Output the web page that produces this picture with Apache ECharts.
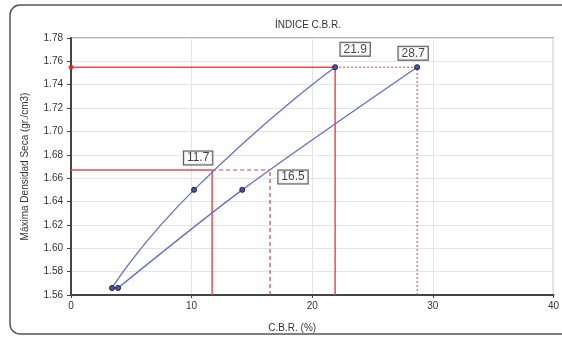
<!DOCTYPE html>
<html><head><meta charset="utf-8">
<script src="https://cdn.jsdelivr.net/npm/echarts@6/dist/echarts.min.js"></script>
<style>html,body{margin:0;padding:0;background:#fff}#c{width:562px;height:340px}</style>
</head><body><div id="c"></div>
<script>
const titleText = 'ÍNDICE C.B.R.';
const xName = 'C.B.R. (%)';
const yName = 'Máxima Densidad Seca (gr./cm3)';
const cbr1 = [3.4, 10.2, 21.9];
const dens1 = [1.566, 1.650, 1.755];
const cbr2 = [3.9, 14.2, 28.7];
const dens2 = [1.566, 1.650, 1.755];
const cbrResults = [11.7, 16.5, 21.9, 28.7];
const densResults = [1.667, 1.667, 1.755, 1.755];
const xTicks = [0, 10, 20, 30, 40];
const yTicks = [1.56, 1.58, 1.60, 1.62, 1.64, 1.66, 1.68, 1.70, 1.72, 1.74, 1.76, 1.78];

const yMin = yTicks[0], yMax = yTicks[yTicks.length - 1];
const xMin = xTicks[0], xMax = xTicks[xTicks.length - 1];
const RED = '#ee4b4b', RED_D = '#c8474f';
const BLUE = '#6170c2';

function seg(name, pts, color, type, width) {
  return { name, type: 'line', data: pts, symbol: 'none', silent: true, z: 3,
    lineStyle: { color, type, width } };
}
const series = [];
series.push(seg('h1', [[xMin, densResults[0]], [cbrResults[0], densResults[0]]], RED, 'solid', 1.5));
series.push(seg('v1', [[cbrResults[0], yMin], [cbrResults[0], densResults[0]]], RED, 'solid', 1.5));
series.push(seg('h2', [[cbrResults[0], densResults[1]], [cbrResults[1], densResults[1]]], RED_D, [4, 3], 1.2));
series.push(seg('v2', [[cbrResults[1], yMin], [cbrResults[1], densResults[1]]], RED_D, [4, 3], 1.2));
series.push(seg('h3', [[xMin, densResults[2]], [cbrResults[2], densResults[2]]], RED, 'solid', 1.5));
series.push(seg('v3', [[cbrResults[2], yMin], [cbrResults[2], densResults[2]]], RED, 'solid', 1.5));
series.push(seg('h4', [[cbrResults[2], densResults[3]], [cbrResults[3], densResults[3]]], RED_D, [2, 2], 1));
series.push(seg('v4', [[cbrResults[3], yMin], [cbrResults[3], densResults[3]]], RED_D, [2, 2], 1));
series.push({ type: 'scatter', data: [[xMin, densResults[2]]], symbolSize: 5, z: 6,
  itemStyle: { color: '#e02020' } });

const markerStyle = { color: '#4a58a8', borderColor: '#1c1c40', borderWidth: 1 };
series.push({ name: 'c1', type: 'line', smooth: 0.6, z: 5,
  data: cbr1.map((x, i) => [x, dens1[i]]), symbol: 'circle', symbolSize: 5,
  lineStyle: { color: BLUE, width: 1.3 }, itemStyle: markerStyle });
series.push({ name: 'c2', type: 'line', smooth: 0.3, z: 5,
  data: cbr2.map((x, i) => [x, dens2[i]]), symbol: 'circle', symbolSize: 5,
  lineStyle: { color: BLUE, width: 1.3 }, itemStyle: markerStyle });

const offsets = [[-14, -12], [23, 7], [20, -18], [-4, -14]];
series.push({ type: 'scatter', symbolSize: 0, z: 10, silent: true,
  data: cbrResults.map((x, i) => ({ value: [x, densResults[i]],
    label: { offset: offsets[i] } })),
  label: { show: true, position: 'inside', formatter: p => p.value[0].toFixed(1),
    fontFamily: 'Liberation Sans, Arial', fontSize: 12, color: '#111',
    backgroundColor: '#fff', borderColor: '#222', borderWidth: 1,
    padding: [1, 3, 0, 3] } });

const chart = echarts.init(document.getElementById('c'));
chart.setOption({
  animation: false,
  textStyle: { fontFamily: 'Liberation Sans, Arial' },
  title: { text: titleText, left: 303, top: 15, textAlign: 'center',
    textStyle: { fontSize: 10, fontWeight: 'normal', color: '#333' } },
  grid: { left: 71, top: 38, right: 7, bottom: 45, show: true,
    borderColor: '#666', borderWidth: 1.2, backgroundColor: '#fff' },
  xAxis: { type: 'value', min: xMin, max: xMax, interval: 10,
    name: xName, nameLocation: 'middle', nameGap: 28,
    nameTextStyle: { fontSize: 10, color: '#333', padding: [0, 40, 0, 0] },
    axisLine: { show: true, onZero: false, lineStyle: { color: '#444', width: 2 } },
    axisTick: { show: true, length: 3, lineStyle: { color: '#444' } },
    axisLabel: { fontSize: 10, color: '#333', margin: 6 },
    splitLine: { show: true, lineStyle: { color: '#e4e4e4', width: 1 } } },
  yAxis: { type: 'value', min: yMin, max: yMax, interval: 0.02,
    name: yName, nameLocation: 'middle', nameGap: 41,
    nameTextStyle: { fontSize: 10, color: '#333' },
    axisLine: { show: true, onZero: false, lineStyle: { color: '#444', width: 2 } },
    axisTick: { show: true, length: 4, lineStyle: { color: '#444' } },
    axisLabel: { fontSize: 10, color: '#333', margin: 8, formatter: v => v.toFixed(2) },
    splitLine: { show: true, lineStyle: { color: '#e4e4e4', width: 1 } } },
  graphic: [{ type: 'rect', z: -1, shape: { x: 10, y: 5, width: 570, height: 329, r: 10 },
    style: { fill: 'none', stroke: '#555', lineWidth: 1.5 } }],
  series
});
</script></body></html>
